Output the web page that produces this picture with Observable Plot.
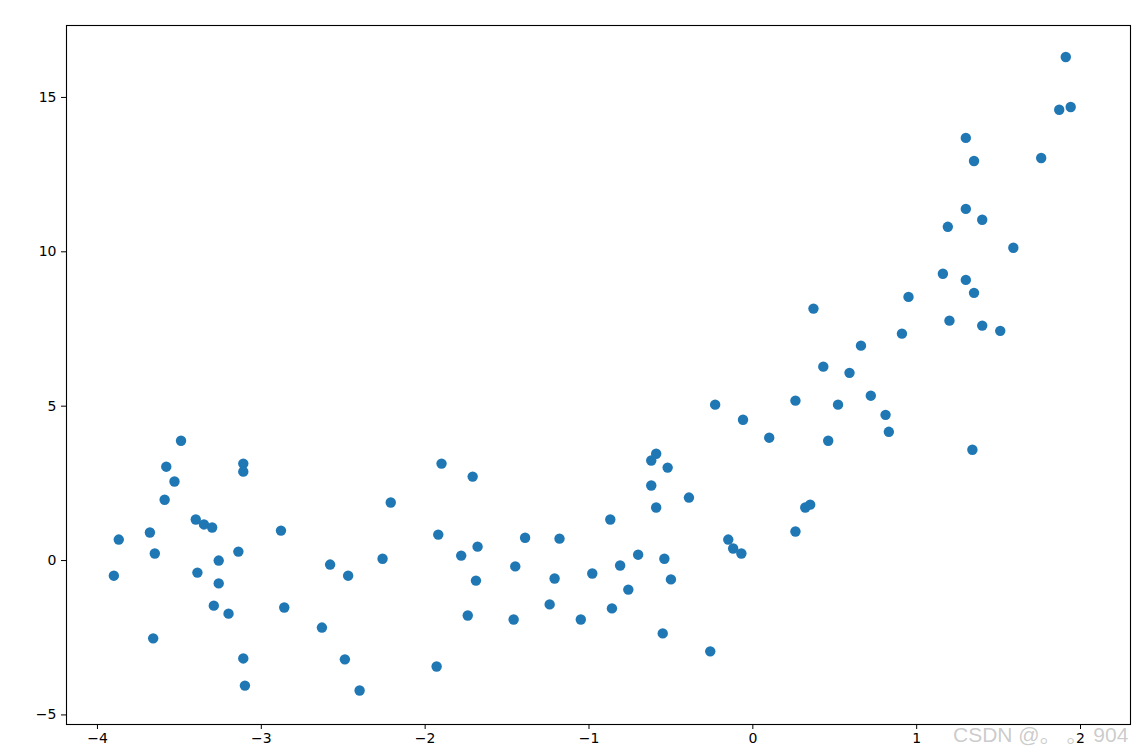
<!DOCTYPE html>
<html>
<head>
<meta charset="utf-8">
<script src="https://cdn.jsdelivr.net/npm/d3@7"></script>
<script src="https://cdn.jsdelivr.net/npm/@observablehq/plot@0.6"></script>
<style>
  html, body { margin: 0; padding: 0; background: #fff; }
  #wrap { position: relative; width: 1144px; height: 751px; }
  #wm { position: absolute; left: 953px; top: 718px; font-family: "Liberation Sans", "Noto Sans CJK SC", sans-serif; font-size: 21px; color: rgba(160,160,160,0.55); white-space: nowrap; }
</style>
</head>
<body>
<div id="wrap"><div id="chart"></div><div id="wm">CSDN @。 。 904</div></div>
<script>
const xs = [-3.90,-3.87,-3.68,-3.65,-3.66,-3.59,-3.58,-3.53,-3.49,-3.40,-3.39,-3.35,-3.30,-3.29,-3.26,-3.26,-3.20,-3.14,-3.11,-3.11,-3.11,-3.10,-2.88,-2.86,-2.63,-2.58,-2.49,-2.47,-2.40,-2.26,-2.21,-1.93,-1.92,-1.90,-1.78,-1.74,-1.71,-1.69,-1.68,-1.45,-1.46,-1.39,-1.24,-1.21,-1.18,-1.05,-0.98,-0.87,-0.86,-0.81,-0.76,-0.70,-0.62,-0.62,-0.59,-0.59,-0.55,-0.54,-0.52,-0.50,-0.39,-0.26,-0.23,-0.15,-0.12,-0.07,-0.06,0.10,0.26,0.26,0.32,0.35,0.37,0.43,0.46,0.52,0.59,0.66,0.72,0.81,0.83,0.91,0.95,1.16,1.19,1.20,1.30,1.30,1.30,1.34,1.35,1.35,1.40,1.40,1.51,1.59,1.76,1.87,1.91,1.94];
const ys = [-0.49,0.68,0.91,0.23,-2.52,1.97,3.04,2.56,3.88,1.33,-0.39,1.17,1.07,-1.46,0.0,-0.74,-1.72,0.29,3.14,2.88,-3.17,-4.05,0.97,-1.52,-2.17,-0.13,-3.20,-0.49,-4.21,0.06,1.88,-3.43,0.84,3.14,0.16,-1.78,2.72,-0.65,0.45,-0.19,-1.91,0.74,-1.42,-0.58,0.71,-1.91,-0.42,1.33,-1.55,-0.16,-0.94,0.19,2.43,3.24,3.46,1.72,-2.36,0.06,3.01,-0.61,2.04,-2.94,5.05,0.68,0.39,0.23,4.56,3.98,0.94,5.18,1.72,1.81,8.16,6.28,3.88,5.05,6.08,6.96,5.34,4.72,4.17,7.35,8.54,9.29,10.81,7.77,11.39,13.69,9.09,3.59,8.67,12.94,7.61,11.04,7.44,10.13,13.04,14.60,16.31,14.69];
const xTicks = [-4,-3,-2,-1,0,1,2];
const yTicks = [-5,0,5,10,15];

const data = xs.map((x, i) => ({x, y: ys[i]}));
const fmt = d => d < 0 ? "\u2212" + Math.abs(d) : String(d);

const chart = Plot.plot({
  width: 1144,
  height: 751,
  marginLeft: 66,
  marginRight: 14,
  marginTop: 25,
  marginBottom: 27,
  style: { fontFamily: "'DejaVu Sans', sans-serif", fontSize: "14px", color: "#000", background: "#fff" },
  x: { domain: [-4.189, 2.305] },
  y: { domain: [-5.31, 17.33] },
  marks: [
    Plot.dot(data, { x: "x", y: "y", r: 5.2, fill: "#1f77b4", stroke: "none" }),
    Plot.frame({ stroke: "#000", strokeWidth: 1.1 }),
    Plot.axisX({ ticks: xTicks, tickFormat: fmt, tickSize: 5, tickPadding: 4, label: null, stroke: "#000", fill: "#000" }),
    Plot.axisY({ ticks: yTicks, tickFormat: fmt, tickSize: 5, tickPadding: 5, label: null, stroke: "#000", fill: "#000" })
  ]
});
document.getElementById("chart").appendChild(chart);
</script>
</body>
</html>
